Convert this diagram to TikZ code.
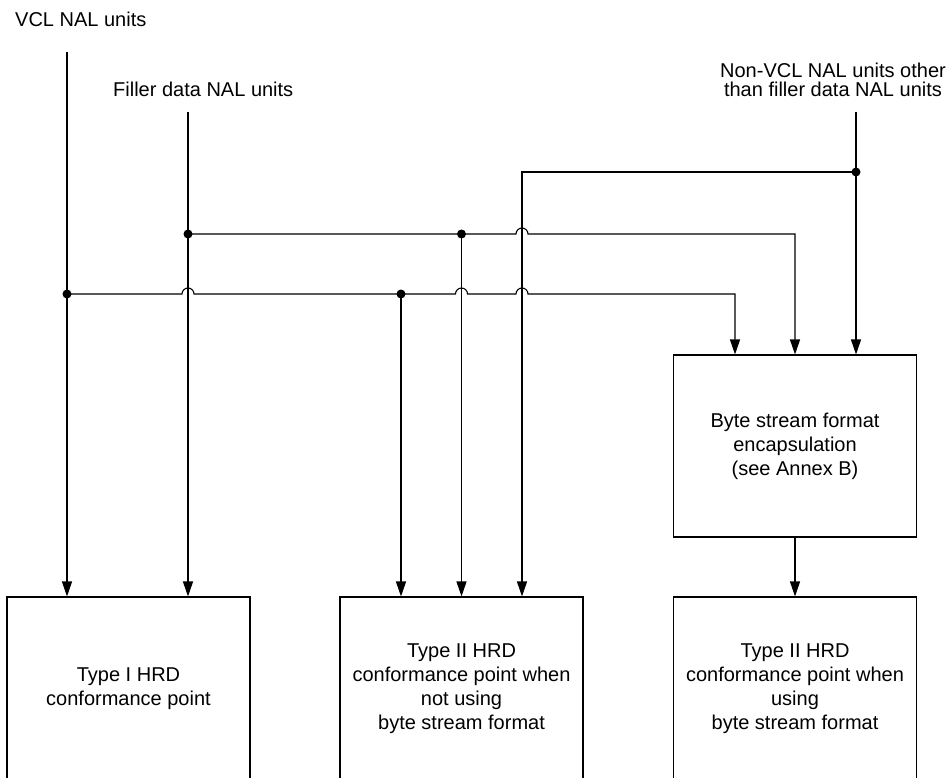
\documentclass[tikz,border=0pt]{standalone}
\usepackage{fontspec}
\setmainfont{Liberation Sans}
\usetikzlibrary{arrows.meta}
% half-circle jump of a horizontal wire over a vertical one
\newcommand\jumpover{arc[start angle=180,end angle=0,radius=6pt]}
\begin{document}
\begin{tikzpicture}[x=1pt,y=-1pt,
  wire/.style={line width=1.1pt, draw=black},
  feed/.style={wire, -{Triangle[length=15pt,width=10pt]}},
  junction/.style={circle, fill=black, inner sep=0pt, minimum size=9pt},
  tag/.style={font=\fontsize{20}{24}\selectfont, inner sep=0pt},
  block/.style={draw, line width=1.1pt, font=\fontsize{20}{24}\selectfont,
    align=center, minimum width=243pt, inner sep=0pt}]
\useasboundingbox (0,0) rectangle (948,778);

% input labels
\node[tag, anchor=base west] (vcl) at (15,27) {VCL NAL units};
\node[tag, anchor=base west] (fill) at (113,97) {Filler data NAL units};
\node[tag, align=center, font=\fontsize{20}{19}\selectfont] (nvcl) at (833,80)
  {Non-VCL NAL units other\\than filler data NAL units};

% processing and conformance blocks
\node[block, minimum height=182pt] (bsf) at (795,446)
  {Byte stream format\\encapsulation\\(see Annex B)};
\node[block, minimum height=183pt] (b1) at (128.5,688.5)
  {Type I HRD\\conformance point};
\node[block, minimum height=183pt] (b2) at (461.5,688.5)
  {Type II HRD\\conformance point when\\not using\\byte stream format};
\node[block, minimum height=183pt] (b3) at (795,688.5)
  {Type II HRD\\conformance point when\\using\\byte stream format};

% lane origins, junctions and corners
\coordinate (lV) at (67,52);
\coordinate (lF) at (188,112);
\coordinate (lN) at (856,112);
\coordinate (jV) at (67,294);
\coordinate (jF) at (188,234);
\coordinate (jN) at (856,172);
\coordinate (k1) at (401,294);
\coordinate (k2) at (461.5,234);
\coordinate (cN) at (522,172);
\coordinate (cF) at (795,234);
\coordinate (cV) at (735,294);

% vertical feeds
\draw[feed] (lV) -- (lV |- b1.north);
\draw[feed] (lF) -- (lF |- b1.north);
\draw[feed] (lN) -- (lN |- bsf.north);

% non-VCL branch to the type II point without byte stream
\draw[feed] (jN) -- (cN) -- (cN |- b2.north);

% filler data branch
\draw[feed] (jF) -- ([xshift=-6pt]cN |- jF) \jumpover -- (cF) -- (cF |- bsf.north);
\draw[feed] (k2) -- (k2 |- b2.north);

% VCL branch
\draw[feed] (jV) -- ([xshift=-6pt]lF |- jV) \jumpover
  -- ([xshift=-6pt]k2 |- jV) \jumpover
  -- ([xshift=-6pt]cN |- jV) \jumpover
  -- (cV) -- (cV |- bsf.north);
\draw[feed] (k1) -- (k1 |- b2.north);

% encapsulated stream
\draw[feed] (bsf) -- (b3);

% junction dots
\node[junction] (dV) at (jV) {};
\node[junction] (dF) at (jF) {};
\node[junction] (dN) at (jN) {};
\node[junction] (d1) at (k1) {};
\node[junction] (d2) at (k2) {};
\end{tikzpicture}
\end{document}
